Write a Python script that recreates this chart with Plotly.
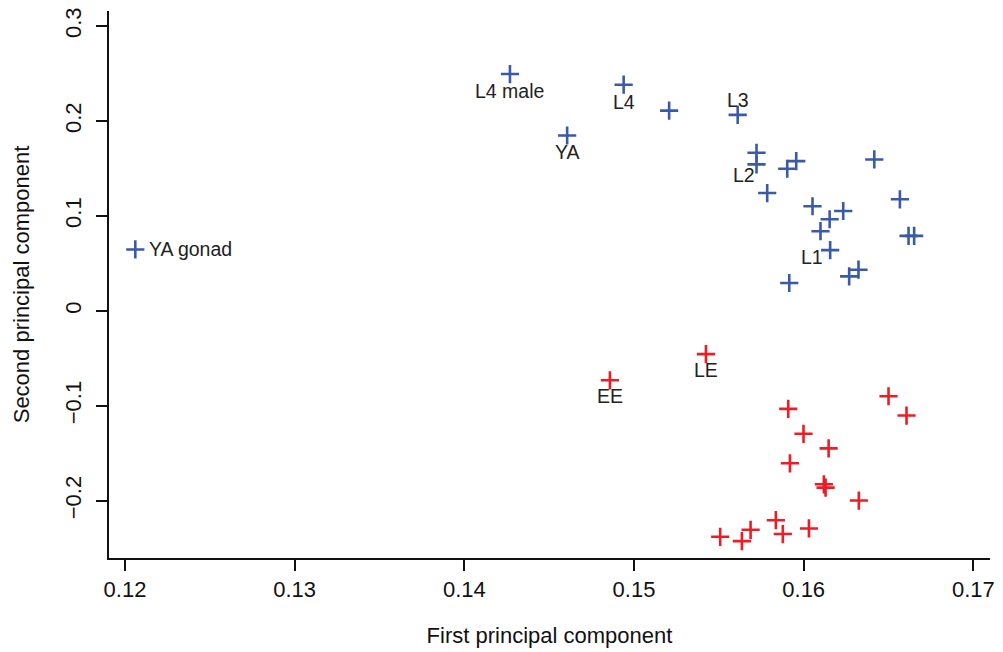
import plotly.graph_objects as go

# Blue group (larval / adult stages)
blue_x = [0.12061, 0.14269, 0.14939, 0.15207, 0.14606, 0.15611,
          0.15722, 0.15722, 0.15956, 0.15903, 0.16416, 0.15785,
          0.16567, 0.16052, 0.16233, 0.16153, 0.16099, 0.16618,
          0.16651, 0.16156, 0.16323, 0.16268, 0.15915]
blue_y = [0.0647, 0.2494, 0.2382, 0.2109, 0.1847, 0.2064,
          0.1665, 0.1543, 0.1577, 0.1497, 0.1595, 0.1241,
          0.1175, 0.1102, 0.1052, 0.0965, 0.0839, 0.0790,
          0.0790, 0.0640, 0.0434, 0.0364, 0.0294]

# Red group (embryo stages)
red_x = [0.15424, 0.14858, 0.16500, 0.16606, 0.15909, 0.15999,
         0.16147, 0.15919, 0.16119, 0.16129, 0.16325, 0.15836,
         0.16031, 0.15687, 0.15877, 0.15508, 0.15636]
red_y = [-0.0455, -0.0731, -0.0899, -0.1102, -0.1032, -0.1294,
         -0.1448, -0.1605, -0.1826, -0.1861, -0.1997, -0.2204,
         -0.2291, -0.2305, -0.2350, -0.2379, -0.2424]

# Point labels: (text, group, index into group)
point_labels = [("YA gonad", "blue", 0), ("L4 male", "blue", 1), ("L4", "blue", 2),
                ("YA", "blue", 4), ("L3", "blue", 5), ("L2", "blue", 7),
                ("L1", "blue", 19), ("LE", "red", 0), ("EE", "red", 1)]

x_ticks = [0.12, 0.13, 0.14, 0.15, 0.16, 0.17]
y_ticks = [-0.2, -0.1, 0, 0.1, 0.2, 0.3]
y_tick_text = ["\u22120.2", "\u22120.1", "0", "0.1", "0.2", "0.3"]

BLUE = "#3A5AA8"
RED = "#EE1C25"
FONT = "Liberation Sans, Arial, sans-serif"

fig = go.Figure()
fig.add_trace(go.Scatter(x=blue_x, y=blue_y, mode="markers",
                         marker=dict(symbol="cross-thin", size=13,
                                     line=dict(color=BLUE, width=2.6)),
                         showlegend=False, hoverinfo="skip"))
fig.add_trace(go.Scatter(x=red_x, y=red_y, mode="markers",
                         marker=dict(symbol="cross-thin", size=13,
                                     line=dict(color=RED, width=2.6)),
                         showlegend=False, hoverinfo="skip"))

groups = {"blue": (blue_x, blue_y), "red": (red_x, red_y)}
# placement offsets per label (pixels): xshift, yshift, xanchor
offsets = {"YA gonad": (12, 0, "left"), "L4 male": (0, -17, "center"),
           "L4": (0, -17, "center"), "YA": (0, -16, "center"),
           "L3": (0, 15, "center"), "L2": (-13, -11, "center"),
           "L1": (-18, -7, "center"), "LE": (0, -16, "center"),
           "EE": (0, -16, "center")}
for text, g, i in point_labels:
    gx, gy = groups[g]
    xs, ys, xa = offsets[text]
    fig.add_annotation(x=gx[i], y=gy[i], text=text, showarrow=False,
                       xshift=xs, yshift=ys, xanchor=xa, yanchor="middle",
                       font=dict(family=FONT, size=19.5, color="#222222"))

fig.update_layout(
    width=1003, height=652,
    margin=dict(l=109, r=12, t=8, b=93),
    paper_bgcolor="white", plot_bgcolor="white",
    font=dict(family=FONT, size=22, color="#111111"),
    xaxis=dict(range=[0.11906, 0.17098], tickvals=x_ticks,
               ticktext=[str(v) for v in x_ticks],
               showgrid=False, zeroline=False, showline=True,
               linecolor="#111111", linewidth=2, ticks="outside",
               ticklen=11, tickwidth=2, tickcolor="#111111",
               tickfont=dict(size=22),
               title=dict(text="First principal component", standoff=26,
                          font=dict(size=22))),
    yaxis=dict(range=[-0.2602, 0.3158], tickvals=y_ticks, ticktext=y_tick_text,
               tickangle=-90, ticklabelstandoff=6,
               showgrid=False, zeroline=False, showline=True,
               linecolor="#111111", linewidth=2, ticks="outside",
               ticklen=11, tickwidth=2, tickcolor="#111111",
               tickfont=dict(size=22),
               title=dict(text="Second principal component", standoff=26,
                          font=dict(size=22))),
)

fig.write_html("out.html")
